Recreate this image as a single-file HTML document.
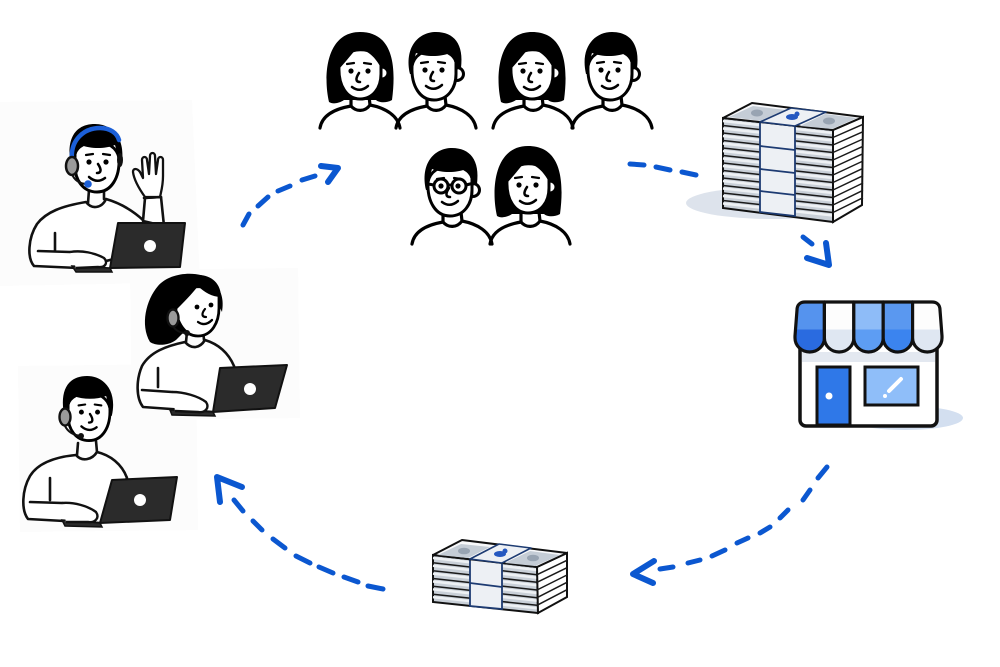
<!DOCTYPE html>
<html><head><meta charset="utf-8"><style>
html,body{margin:0;padding:0;background:#fff;width:1000px;height:667px;overflow:hidden}
svg{display:block}
</style></head><body>
<svg width="1000" height="667" viewBox="0 0 1000 667" xmlns="http://www.w3.org/2000/svg">
<defs>
 <g id="manHead">
  <circle cx="23" cy="2" r="6.5" fill="#fff" stroke="#000" stroke-width="3"/>
  <path d="M-22,-6 C-23,14 -14,28 0,28 C14,28 22,16 22,2 L22,-10 C18,-26 -18,-28 -22,-6 Z" fill="#fff" stroke="#000" stroke-width="3"/>
  <path d="M-24,2 C-30,-24 -16,-40 2,-40 C20,-40 30,-28 27,-4 L22,-2 C21,-12 18,-16 16,-19 C6,-15 -8,-15 -18,-19 C-20,-12 -22,-4 -22,2 Z" fill="#000"/>
  <circle cx="-9" cy="-2" r="2.6" fill="#000"/><circle cx="8" cy="-2" r="2.6" fill="#000"/>
  <path d="M-13,-9 L-6,-10 M4,-10 L11,-9" stroke="#000" stroke-width="2.2" fill="none" stroke-linecap="round"/>
  <path d="M-1,0 C-5,6 -4,9 0,9" stroke="#000" stroke-width="2.5" fill="none" stroke-linecap="round"/>
  <path d="M-8,14 Q0,20 8,13" stroke="#000" stroke-width="2.5" fill="none" stroke-linecap="round"/>
 </g>
 <g id="womanHead">
  <path d="M-31,30 C-37,4 -34,-40 0,-40 C31,-40 37,-10 32,28 C25,32 18,30 16,28 L-16,28 C-22,32 -28,32 -31,30 Z" fill="#000"/>
  <circle cx="22" cy="1" r="6" fill="#fff" stroke="#000" stroke-width="3"/>
  <path d="M-21,-6 C-22,14 -13,27 0,27 C13,27 21,16 21,2 L21,-10 C17,-26 -17,-28 -21,-6 Z" fill="#fff" stroke="#000" stroke-width="3"/>
  <path d="M-23,-2 C-25,-26 -10,-38 4,-38 C20,-38 28,-26 26,-6 L21,-4 C16,-14 8,-22 -3,-24 C-10,-16 -16,-8 -22,-2 Z" fill="#000"/>
  <circle cx="-9" cy="-1" r="2.6" fill="#000"/><circle cx="8" cy="-1" r="2.6" fill="#000"/>
  <path d="M-13,-8 L-6,-9 M4,-9 L11,-8" stroke="#000" stroke-width="2.2" fill="none" stroke-linecap="round"/>
  <path d="M-1,1 C-5,7 -4,10 0,10" stroke="#000" stroke-width="2.5" fill="none" stroke-linecap="round"/>
  <path d="M-8,15 Q0,21 8,14" stroke="#000" stroke-width="2.5" fill="none" stroke-linecap="round"/>
 </g>
 <g id="torso" fill="none" stroke="#000" stroke-width="3.2" stroke-linecap="round">
  <path d="M-9,24 L-9,34 M9,24 L10,33"/>
  <path d="M-9,34 C-4,40 5,40 10,33"/>
  <path d="M-40,56 C-38,44 -26,37 -9,34 M10,33 C26,36 38,44 40,56"/>
 </g>
 <linearGradient id="gA" x1="0" y1="0" x2="0" y2="1"><stop offset="0.55" stop-color="#5593ee"/><stop offset="0.55" stop-color="#2a6be0"/></linearGradient>
 <linearGradient id="gW" x1="0" y1="0" x2="0" y2="1"><stop offset="0.55" stop-color="#fdfdfd"/><stop offset="0.55" stop-color="#dfe7f2"/></linearGradient>
 <linearGradient id="gL" x1="0" y1="0" x2="0" y2="1"><stop offset="0.55" stop-color="#8ebcf8"/><stop offset="0.55" stop-color="#5d9df3"/></linearGradient>
 <linearGradient id="gB" x1="0" y1="0" x2="0" y2="1"><stop offset="0.55" stop-color="#5a98f0"/><stop offset="0.55" stop-color="#3b84ef"/></linearGradient>
</defs>

<!-- faint agent backgrounds -->
<path d="M0,102 L192,100 L200,282 L0,286 Z" fill="#fcfcfc"/>
<path d="M130,270 L298,268 L300,418 L132,420 Z" fill="#fcfcfc"/>
<path d="M18,366 L196,364 L198,530 L20,532 Z" fill="#fcfcfc"/>

<!-- Agent 1 -->
<g stroke="#111" stroke-width="2.6" stroke-linecap="round" stroke-linejoin="round">
 <path d="M78,268 L34,266 C27,258 28,238 37,224 C46,212 62,206 86,202 C92,210 102,208 106,199 C120,203 132,210 143,220 L150,250 Z" fill="#fff"/>
 <polygon points="143,221 145,198 161,197 164,226" fill="#fff"/>
 <path d="M145,197 C140,190 134,180 133,172 C133,168 137,168 140,172 L143,178 L142,160 C142,156 147,156 147,160 L149,174 L150,156 C150,152 155,152 155,156 L156,174 L158,160 C158,156 163,156 163,160 L163,176 C163,186 161,192 160,197 Z" fill="#fff" stroke-width="2.3"/>
 <path d="M144,198 L161,197" fill="none"/>
 <path d="M55,233 L55,251 M38,251 L70,252" fill="none"/>
 <path d="M88,203 L89,190 M104,199 L104,188" fill="none"/>
</g>
<use href="#manHead" transform="translate(97,164) scale(-1,1)"/>
<path d="M72,160 C70,140 84,128 100,128 C110,128 117,133 119,140" fill="none" stroke="#1b5fd8" stroke-width="4.5" stroke-linecap="round"/>
<ellipse cx="72" cy="166" rx="6" ry="9" fill="#9a9a9a" stroke="#111" stroke-width="2.5"/>
<ellipse cx="120" cy="160" rx="3" ry="7" fill="#111"/>
<path d="M72,174 C74,180 80,184 87,184" fill="none" stroke="#111" stroke-width="2"/>
<circle cx="88" cy="184" r="3.8" fill="#1b5fd8"/>
<polygon points="118,223 185,223 180,267 110,268" fill="#2b2b2b" stroke="#111" stroke-width="2" stroke-linejoin="round"/>
<polygon points="72,266 110,268 112,272 76,272" fill="#2b2b2b" stroke="#111" stroke-width="1.5"/>
<circle cx="150" cy="246" r="6" fill="#fff"/>
<path d="M70,252 C82,250 95,253 104,258 C108,262 106,268 98,267 L76,268" fill="#fff" stroke="#111" stroke-width="2.4" stroke-linejoin="round"/>

<!-- Agent 2 -->
<g stroke="#111" stroke-width="2.6" stroke-linecap="round" stroke-linejoin="round">
 <path d="M213,412 L143,407 C136,398 136,380 142,366 C150,352 166,346 185,342 C192,350 200,348 205,340 C218,344 228,352 234,366 L238,380 L225,400 Z" fill="#fff"/>
 <path d="M158,368 L158,387 M142,390 L172,392" fill="none"/>
 <path d="M186,342 L187,332 M204,340 L203,330" fill="none"/>
</g>
<path d="M150,342 C140,325 146,300 158,286 C170,272 198,270 212,280 C222,290 224,300 222,312 L216,300 L176,340 C168,346 156,346 150,342 Z" fill="#000"/>
<path d="M176,300 C174,320 184,336 198,336 C212,336 219,322 219,308 L219,296 C214,284 182,282 176,300 Z" fill="#fff" stroke="#000" stroke-width="2.8"/>
<path d="M172,312 C170,290 180,276 198,275 C212,275 221,284 221,297 C212,297 204,292 198,286 C192,294 184,302 174,312 Z" fill="#000"/>
<circle cx="197" cy="307" r="2.4" fill="#000"/><circle cx="211" cy="305" r="2.4" fill="#000"/>
<path d="M205,309 C201,314 202,317 206,317" fill="none" stroke="#000" stroke-width="2.2" stroke-linecap="round"/>
<path d="M198,322 Q205,327 212,320" fill="none" stroke="#000" stroke-width="2.3" stroke-linecap="round"/>
<ellipse cx="173" cy="318" rx="5.5" ry="8.5" fill="#9a9a9a" stroke="#111" stroke-width="2.4"/>
<path d="M173,326 C176,331 181,333 186,333" fill="none" stroke="#111" stroke-width="2"/>
<circle cx="187" cy="333" r="3" fill="#111"/>
<polygon points="220,368 287,365 275,408 213,412" fill="#2b2b2b" stroke="#111" stroke-width="2" stroke-linejoin="round"/>
<polygon points="170,410 213,412 215,416 172,415" fill="#2b2b2b" stroke="#111" stroke-width="1.5"/>
<circle cx="250" cy="389" r="6" fill="#fff"/>
<path d="M172,392 C184,392 198,396 206,402 C210,408 205,413 198,412 L175,411" fill="#fff" stroke="#111" stroke-width="2.4" stroke-linejoin="round"/>

<!-- Agent 3 -->
<g stroke="#111" stroke-width="2.6" stroke-linecap="round" stroke-linejoin="round">
 <path d="M100,523 L28,519 C21,510 22,490 30,476 C38,463 55,457 76,455 C82,462 92,460 97,452 C110,455 122,464 127,478 L115,500 Z" fill="#fff"/>
 <path d="M50,478 L50,500 M30,502 L62,503" fill="none"/>
 <path d="M77,455 L78,443 M97,452 L96,441" fill="none"/>
</g>
<use href="#manHead" transform="translate(89,414) scale(-0.95,0.95)"/>
<ellipse cx="65" cy="417" rx="5.5" ry="8.5" fill="#9a9a9a" stroke="#111" stroke-width="2.4"/>
<path d="M65,426 C68,432 74,435 80,436" fill="none" stroke="#111" stroke-width="2"/>
<circle cx="81" cy="436" r="3" fill="#111"/>
<polygon points="112,480 177,477 170,520 100,523" fill="#2b2b2b" stroke="#111" stroke-width="2" stroke-linejoin="round"/>
<polygon points="62,520 100,523 102,527 65,526" fill="#2b2b2b" stroke="#111" stroke-width="1.5"/>
<circle cx="140" cy="500" r="6" fill="#fff"/>
<path d="M62,503 C74,502 88,506 96,512 C100,518 95,523 88,522 L66,522" fill="#fff" stroke="#111" stroke-width="2.4" stroke-linejoin="round"/>

<!-- People group -->
<use href="#torso" transform="translate(360,72)"/>
<use href="#womanHead" transform="translate(360,72)"/>
<use href="#torso" transform="translate(436,72)"/>
<use href="#manHead" transform="translate(434,72)"/>
<use href="#torso" transform="translate(533,72)"/>
<use href="#womanHead" transform="translate(532,72)"/>
<use href="#torso" transform="translate(612,72)"/>
<use href="#manHead" transform="translate(610,72)"/>
<use href="#torso" transform="translate(452,188)"/>
<use href="#manHead" transform="translate(450,188)"/>
<g transform="translate(450,188)" fill="none" stroke="#000" stroke-width="3">
 <circle cx="-9" cy="-2" r="7"/><circle cx="9" cy="-2" r="7"/>
 <path d="M-2,-3 L2,-3 M16,-3 L24,-5 M-16,-3 L-22,-4"/>
</g>
<use href="#torso" transform="translate(530,188)"/>
<use href="#womanHead" transform="translate(528,186)"/>

<!-- Big money stack -->
<ellipse cx="772" cy="203" rx="86" ry="16" fill="#dde3ec"/>
<polygon points="723,118 833,130 833,222 723,208" fill="#c9d0d8" stroke="#111" stroke-width="2"/>
<path d="M723,121 L833,133 M723,128.5 L833,140.5 M723,136 L833,148 M723,143.5 L833,155.5 M723,151 L833,163 M723,158.5 L833,170.5 M723,166 L833,178 M723,173.5 L833,185.5 M723,181 L833,193 M723,188.5 L833,200.5 M723,196 L833,208 M723,203.5 L833,215.5" stroke="#eef1f4" stroke-width="2.4"/>
<path d="M723,125.5 L833,137.5 M723,133 L833,145 M723,140.5 L833,152.5 M723,148 L833,160 M723,155.5 L833,167.5 M723,163 L833,175 M723,170.5 L833,182.5 M723,178 L833,190 M723,185.5 L833,197.5 M723,193 L833,205 M723,200.5 L833,212.5" stroke="#1a1a1a" stroke-width="1.5"/>
<polygon points="833,130 863,117 862,205 833,222" fill="#fff" stroke="#111" stroke-width="2"/>
<path d="M833,137.5 L863,124.3 M833,145 L863,131.7 M833,152.5 L863,139 M833,160 L863,146.3 M833,167.5 L863,153.7 M833,175 L863,161 M833,182.5 L863,168.3 M833,190 L863,175.7 M833,197.5 L863,183 M833,205 L863,190.3 M833,212.5 L863,197.7" stroke="#1a1a1a" stroke-width="1.5"/>
<polygon points="760,122 795,126 795,216 760,212" fill="#edf0f4" stroke="#1d3b72" stroke-width="1.8"/>
<path d="M760,146 L795,150 M760,169 L795,173 M760,191 L795,195" stroke="#1d3b72" stroke-width="1.8"/>
<polygon points="723,118 752,103 863,117 833,130" fill="#f7f8fa" stroke="#111" stroke-width="2" stroke-linejoin="round"/>
<polygon points="729,117 753,106 786,110 762,121" fill="#c5cdd6"/>
<ellipse cx="757" cy="113" rx="6" ry="3.5" fill="#98a4b2"/>
<polygon points="800,126 825,114 857,118 832,129" fill="#c5cdd6"/>
<ellipse cx="829" cy="121" rx="6" ry="3.5" fill="#98a4b2"/>
<polygon points="760,122 795,126 826,112 791,108" fill="#edf0f4" stroke="#1d3b72" stroke-width="1.6" stroke-linejoin="round"/>
<ellipse cx="792" cy="117" rx="6" ry="3" fill="#2558c0"/>
<circle cx="797" cy="114" r="2.5" fill="#2558c0"/>

<!-- Bottom money stack -->
<polygon points="433,555 537,567 538,613 433,602" fill="#c9d0d8" stroke="#111" stroke-width="2"/>
<path d="M433,558 L537,570 M433,565.8 L537,577.7 M433,573.7 L537,585.3 M433,581.5 L537,593 M433,589.3 L537,600.7 M433,597.2 L537,608.3" stroke="#eef1f4" stroke-width="2.4"/>
<path d="M433,562.8 L537,574.7 M433,570.7 L537,582.3 M433,578.5 L537,590 M433,586.3 L537,597.7 M433,594.2 L537,605.3" stroke="#1a1a1a" stroke-width="1.5"/>
<polygon points="537,567 567,553 567,597 538,613" fill="#fff" stroke="#111" stroke-width="2"/>
<path d="M537,574.7 L567,560.3 M537,582.3 L567,567.7 M537,590 L567,575 M537,597.7 L567,582.3 M537,605.3 L567,589.7" stroke="#1a1a1a" stroke-width="1.5"/>
<polygon points="470,559 502,563 502,609 470,606" fill="#edf0f4" stroke="#1d3b72" stroke-width="1.8"/>
<path d="M470,583 L502,587" stroke="#1d3b72" stroke-width="1.8"/>
<polygon points="433,555 462,540 567,553 537,567" fill="#f7f8fa" stroke="#111" stroke-width="2" stroke-linejoin="round"/>
<polygon points="438,555 461,544 490,547 468,558" fill="#c5cdd6"/>
<ellipse cx="464" cy="551" rx="6" ry="3.3" fill="#98a4b2"/>
<polygon points="505,563 530,551 560,555 535,566" fill="#c5cdd6"/>
<ellipse cx="533" cy="558" rx="6" ry="3.3" fill="#98a4b2"/>
<polygon points="470,559 502,563 531,548 499,544" fill="#edf0f4" stroke="#1d3b72" stroke-width="1.6" stroke-linejoin="round"/>
<ellipse cx="500" cy="554" rx="6" ry="3" fill="#2558c0"/>
<circle cx="505" cy="551" r="2.5" fill="#2558c0"/>

<!-- Store -->
<ellipse cx="905" cy="418" rx="58" ry="12" fill="#d3dff0"/>
<rect x="800" y="340" width="137" height="86" rx="6" fill="#fff" stroke="#111" stroke-width="3.5"/>
<rect x="802" y="352" width="133" height="10" fill="#e3e8f0"/>
<rect x="817" y="367" width="33" height="58" fill="#2f78e8" stroke="#111" stroke-width="3"/>
<circle cx="829" cy="396" r="3.5" fill="#fff"/>
<rect x="865" y="367" width="53" height="38" fill="#8fbef9" stroke="#111" stroke-width="3"/>
<path d="M889,391 L901,379" stroke="#fff" stroke-width="4" stroke-linecap="round"/>
<circle cx="885" cy="396" r="2" fill="#fff"/>
<g stroke="#111" stroke-width="3.2" stroke-linejoin="round">
 <path d="M795,336 L797,310 C797,305 800,302 805,302 L824.4,302 L824.4,338 A14.7,14 0 0 1 795,338 Z" fill="url(#gA)"/>
 <path d="M824.4,302 L853.8,302 L853.8,338 A14.7,14 0 0 1 824.4,338 Z" fill="url(#gW)"/>
 <path d="M853.8,302 L883.2,302 L883.2,338 A14.7,14 0 0 1 853.8,338 Z" fill="url(#gL)"/>
 <path d="M883.2,302 L912.6,302 L912.6,338 A14.7,14 0 0 1 883.2,338 Z" fill="url(#gB)"/>
 <path d="M912.6,302 L932,302 C937,302 940,305 940,310 L942,336 L942,338 A14.7,14 0 0 1 912.6,338 Z" fill="url(#gW)"/>
</g>

<!-- Arrows -->
<g fill="none" stroke="#0b57d0" stroke-width="5" stroke-linecap="round" stroke-linejoin="round">
 <path d="M243,225 L249,214 M258,206 L268,197 M278,191 L290,186 M302,180 L315,176"/>
 <polyline points="321,166 338,168 328,182" stroke-width="6"/>
 <path d="M630,164 L644,165 M656,167 L670,170 M682,172 L696,175"/>
 <path d="M803,237 L812,244"/>
 <polyline points="807,258 829,265 826,243" stroke-width="6"/>
 <path d="M827,467 L818,478 M810,490 L803,500 M788,510 L780,518 M770,527 L760,533 M748,538 L737,543 M725,550 L712,556 M700,560 L688,563 M673,567 L660,569"/>
 <polyline points="654,561 633,574 653,583" stroke-width="6"/>
 <path d="M383,589 L368,586 M358,582 L344,577 M333,573 L319,567 M310,563 L296,556 M285,548 L273,539 M262,530 L253,521 M243,511 L234,500"/>
 <polyline points="242,487 217,477 220,502" stroke-width="6"/>
</g>
</svg>
</body></html>
